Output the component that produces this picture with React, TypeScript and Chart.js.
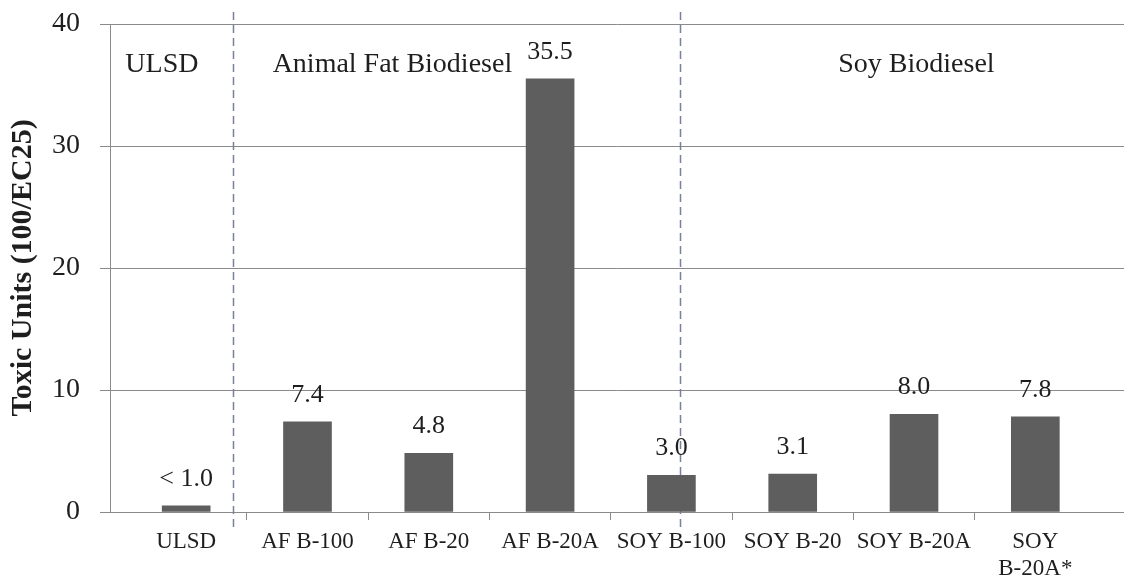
import React, { useEffect, useRef } from "react";
import { Chart, registerables } from "chart.js";

Chart.register(...registerables);

// ---- data ----
const CATEGORIES: (string | string[])[] = [
  "ULSD",
  "AF B-100",
  "AF B-20",
  "AF B-20A",
  "SOY B-100",
  "SOY B-20",
  "SOY B-20A",
  ["SOY", "B-20A*"],
];
const VALUES = [0.5, 7.4, 4.8, 35.5, 3.0, 3.1, 8.0, 7.8];
const VALUE_LABELS = ["< 1.0", "7.4", "4.8", "35.5", "3.0", "3.1", "8.0", "7.8"];
const Y_MIN = 0;
const Y_MAX = 40;
const Y_STEP = 10;
const Y_TITLE = "Toxic Units (100/EC25)";
const GROUP_LABELS = ["ULSD", "Animal Fat Biodiesel", "Soy Biodiesel"];

// ---- annotation placement (in x-scale units) ----
const GROUP_LABEL_X = [-0.2, 1.7, 6.02];
const GROUP_LABEL_Y = 36.1;
const SEPARATOR_X = [0.39, 4.07];
const X_MIN = -0.628;
const X_MAX = 7.731;

const FONT = '"Liberation Serif", "Times New Roman", serif';
const TEXT = "#1e1e1e";
const GRID = "#8a8a8a";
const BAR = "#5e5e5e";
const SEP = "#7a7f9c";

const annotations = {
  id: "annotations",
  beforeDatasetsDraw(chart: any) {
    const { ctx, scales, chartArea } = chart;
    const x = scales.x;
    ctx.save();
    ctx.strokeStyle = SEP;
    ctx.lineWidth = 1.5;
    ctx.setLineDash([8, 5]);
    SEPARATOR_X.forEach((v) => {
      const px = Math.round(x.getPixelForValue(v)) + 0.5;
      ctx.beginPath();
      ctx.moveTo(px, chartArea.top - 12);
      ctx.lineTo(px, chartArea.bottom + 15);
      ctx.stroke();
    });
    ctx.restore();
  },
  afterDatasetsDraw(chart: any) {
    const { ctx, scales } = chart;
    const x = scales.x;
    const y = scales.y;
    const meta = chart.getDatasetMeta(0);
    ctx.save();
    ctx.fillStyle = TEXT;
    ctx.textAlign = "center";
    ctx.textBaseline = "alphabetic";
    ctx.font = `26px ${FONT}`;
    meta.data.forEach((bar: any, i: number) => {
      ctx.fillText(VALUE_LABELS[i], bar.x, bar.y - 20);
    });
    ctx.font = `28px ${FONT}`;
    GROUP_LABELS.forEach((t, i) => {
      ctx.fillText(t, x.getPixelForValue(GROUP_LABEL_X[i]), y.getPixelForValue(GROUP_LABEL_Y));
    });
    ctx.restore();
  },
};

export default function App() {
  const ref = useRef<HTMLCanvasElement | null>(null);

  useEffect(() => {
    if (!ref.current) return;
    const chart = new Chart(ref.current, {
      type: "bar",
      data: {
        datasets: [
          {
            data: VALUES.map((v, i) => ({ x: i, y: v })),
            backgroundColor: BAR,
            borderWidth: 0,
            barThickness: 48,
          },
        ],
      },
      plugins: [annotations],
      options: {
        animation: false,
        responsive: false,
        devicePixelRatio: 1,
        layout: { padding: { top: 24, right: 0, bottom: 0, left: 0 } },
        plugins: {
          legend: { display: false },
          tooltip: { enabled: false },
        },
        scales: {
          x: {
            type: "linear",
            position: "bottom",
            offset: false,
            weight: 1,
            min: X_MIN,
            max: X_MAX,
            afterBuildTicks: (s: any) => {
              s.ticks = CATEGORIES.map((_, i) => ({ value: i }));
            },
            afterFit: (s: any) => {
              s.height = 57;
              s.paddingLeft = 0;
              s.paddingRight = 0;
            },
            ticks: {
              autoSkip: false,
              maxRotation: 0,
              minRotation: 0,
              padding: 8,
              color: TEXT,
              font: { family: FONT, size: 23 },
              callback: (v: any) => CATEGORIES[Math.round(Number(v))] as any,
            },
            grid: { display: false, drawTicks: false, offset: false },
            border: { display: false },
          },
          x2: {
            type: "linear",
            position: "bottom",
            offset: false,
            weight: 0,
            min: X_MIN,
            max: X_MAX,
            afterBuildTicks: (s: any) => {
              s.ticks = CATEGORIES.slice(1).map((_, i) => ({ value: i + 0.5 }));
            },
            afterFit: (s: any) => {
              s.height = 8;
              s.paddingLeft = 0;
              s.paddingRight = 0;
            },
            ticks: { display: false },
            grid: { drawOnChartArea: false, tickLength: 8, color: GRID, offset: false },
            border: { display: true, color: GRID },
          },
          y: {
            min: Y_MIN,
            max: Y_MAX,
            afterFit: (s: any) => {
              s.width = 110;
              s.paddingTop = 0;
              s.paddingBottom = 0;
            },
            ticks: {
              stepSize: Y_STEP,
              padding: 20,
              color: TEXT,
              font: { family: FONT, size: 28 },
            },
            grid: { color: GRID, tickLength: 10 },
            border: { display: true, color: GRID },
            title: {
              display: true,
              text: Y_TITLE,
              color: TEXT,
              font: { family: FONT, size: 30, weight: "bold" },
              padding: { top: 5, bottom: 0 },
            },
          },
        },
      } as any,
    });
    return () => chart.destroy();
  }, []);

  return (
    <div style={{ position: "fixed", left: 0, top: 0, width: 1124, height: 577, background: "#fff" }}>
      <canvas ref={ref} width={1124} height={577} style={{ display: "block" }} />
    </div>
  );
}
